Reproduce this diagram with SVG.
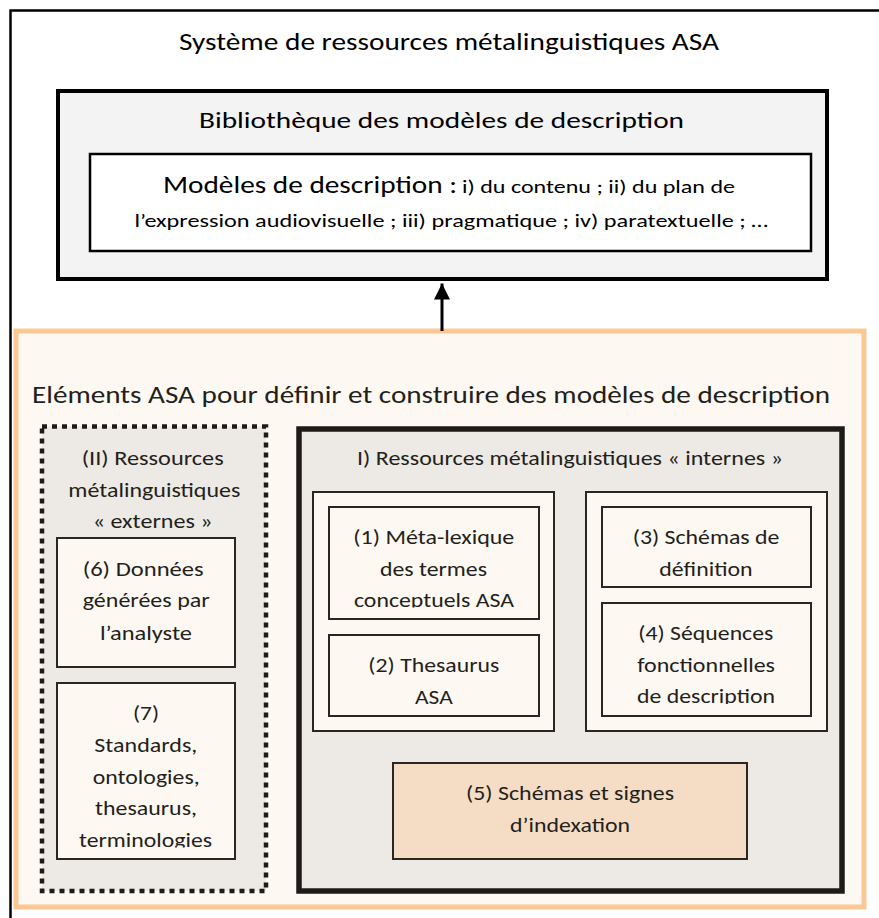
<svg xmlns="http://www.w3.org/2000/svg" width="879" height="918" viewBox="0 0 879 918">
<defs>
<style>
text{font-family:Carlito,Calibri,Lato,"Liberation Sans",sans-serif;fill:#231f1c}
.t{font-size:21px}
.thin{fill:#fdf8f2;stroke:#2b2622;stroke-width:2}
</style>
<marker id="ah" markerUnits="userSpaceOnUse" markerWidth="16" markerHeight="16" refX="16" refY="8" orient="auto">
<path d="M0,0 L16,8 L0,16 Z" fill="#000"/>
</marker>
<clipPath id="c1"><rect x="300" y="500" width="260" height="107.5"/></clipPath>
<clipPath id="c4"><rect x="600" y="600" width="220" height="104"/></clipPath>
<clipPath id="c7"><rect x="50" y="680" width="200" height="167.5"/></clipPath>
</defs>
<rect width="879" height="918" fill="#fff"/>
<g id="systeme">
<path d="M10.5,918 V10.5 H879" fill="none" stroke="#000" stroke-width="2.5"/>
<text x="179" y="50" font-size="24" textLength="540" lengthAdjust="spacingAndGlyphs" style="fill:#000">Système de ressources métalinguistiques ASA</text>
</g>
<g id="bibliotheque">
<rect x="58" y="91" width="769" height="188" fill="#f3f3f3" stroke="#000" stroke-width="4"/>
<text x="199" y="128" font-size="23" textLength="485" lengthAdjust="spacingAndGlyphs" style="fill:#000">Bibliothèque des modèles de description</text>
</g>
<g id="modeles">
<rect x="90" y="154" width="721" height="97" fill="#fff" stroke="#000" stroke-width="2.5"/>
<text x="163" y="193" font-size="24" textLength="294" lengthAdjust="spacingAndGlyphs" style="fill:#000">Modèles de description :</text>
<text x="462" y="193" font-size="19" textLength="273" lengthAdjust="spacingAndGlyphs" style="fill:#000">i) du contenu ; ii) du plan de</text>
<text x="134.5" y="227" font-size="19" textLength="633.5" lengthAdjust="spacingAndGlyphs" style="fill:#000">l’expression audiovisuelle ; iii) pragmatique ; iv) paratextuelle ; …</text>
</g>
<g id="elements">
<rect x="16" y="331" width="848" height="576" fill="#fdf8f2" stroke="#fbc794" stroke-width="5"/>
<text x="32" y="403" font-size="24" textLength="798" lengthAdjust="spacingAndGlyphs">Eléments ASA pour définir et construire des modèles de description</text>
</g>
<g id="externes">
<rect x="42" y="426.5" width="224" height="464.5" fill="#ede9e4" stroke="#1e1a17" stroke-width="4.5" stroke-dasharray="5 5"/>
<text class="t" x="81.7" y="465" textLength="142" lengthAdjust="spacingAndGlyphs">(II) Ressources</text>
<text class="t" x="68.3" y="496.5" textLength="172" lengthAdjust="spacingAndGlyphs">métalinguistiques</text>
<text class="t" x="92.7" y="528" textLength="120" lengthAdjust="spacingAndGlyphs">« externes »</text>
</g>
<g id="n6">
<rect class="thin" x="57" y="538" width="178" height="129"/>
<text class="t" x="82.7" y="576" textLength="121" lengthAdjust="spacingAndGlyphs">(6) Données</text>
<text class="t" x="82.7" y="607" textLength="127" lengthAdjust="spacingAndGlyphs">générées par</text>
<text class="t" x="100" y="640" textLength="92" lengthAdjust="spacingAndGlyphs">l’analyste</text>
</g>
<g id="n7">
<rect class="thin" x="57" y="683" width="178" height="176"/>
<text class="t" x="133" y="720" textLength="26" lengthAdjust="spacingAndGlyphs">(7)</text>
<text class="t" x="94.3" y="752" textLength="103" lengthAdjust="spacingAndGlyphs">Standards,</text>
<text class="t" x="92.7" y="783.5" textLength="107" lengthAdjust="spacingAndGlyphs">ontologies,</text>
<text class="t" x="95" y="815" textLength="102" lengthAdjust="spacingAndGlyphs">thesaurus,</text>
<text class="t" x="79" y="846.5" textLength="133" lengthAdjust="spacingAndGlyphs" clip-path="url(#c7)">terminologies</text>
</g>
<g id="internes">
<rect x="299" y="429" width="543" height="462" fill="#ede9e4" stroke="#1e1a17" stroke-width="5.5"/>
<text class="t" x="357" y="465" textLength="426" lengthAdjust="spacingAndGlyphs">I) Ressources métalinguistiques « internes »</text>
</g>
<g id="groupeA">
<rect class="thin" x="313" y="492" width="241" height="239" stroke="#3b3733"/>
</g>
<g id="n1">
<rect class="thin" x="329" y="507" width="210" height="112"/>
<text class="t" x="353.3" y="544" textLength="161" lengthAdjust="spacingAndGlyphs">(1) Méta-lexique</text>
<text class="t" x="380" y="576" textLength="107" lengthAdjust="spacingAndGlyphs">des termes</text>
<text class="t" x="354" y="607" textLength="160" lengthAdjust="spacingAndGlyphs" clip-path="url(#c1)">conceptuels ASA</text>
</g>
<g id="n2">
<rect class="thin" x="329" y="635" width="210" height="81"/>
<text class="t" x="368.3" y="672" textLength="131" lengthAdjust="spacingAndGlyphs">(2) Thesaurus</text>
<text class="t" x="415" y="704" textLength="37.7" lengthAdjust="spacingAndGlyphs">ASA</text>
</g>
<g id="groupeB">
<rect class="thin" x="586" y="492" width="241" height="239" stroke="#3b3733"/>
</g>
<g id="n3">
<rect class="thin" x="602" y="507" width="209" height="80"/>
<text class="t" x="632.7" y="544" textLength="146.7" lengthAdjust="spacingAndGlyphs">(3) Schémas de</text>
<text class="t" x="659.3" y="576" textLength="93.3" lengthAdjust="spacingAndGlyphs">définition</text>
</g>
<g id="n4">
<rect class="thin" x="602" y="603" width="209" height="113"/>
<text class="t" x="638.3" y="640" textLength="135" lengthAdjust="spacingAndGlyphs">(4) Séquences</text>
<text class="t" x="637.3" y="672" textLength="137.7" lengthAdjust="spacingAndGlyphs">fonctionnelles</text>
<text class="t" x="637" y="703" textLength="138" lengthAdjust="spacingAndGlyphs" clip-path="url(#c4)">de description</text>
</g>
<g id="n5">
<rect x="393" y="763" width="354" height="96" fill="#f5dcc4" stroke="#2b2622" stroke-width="2"/>
<text class="t" x="466" y="800" textLength="208" lengthAdjust="spacingAndGlyphs">(5) Schémas et signes</text>
<text class="t" x="510" y="832" textLength="120" lengthAdjust="spacingAndGlyphs">d’indexation</text>
</g>
<g id="connecteurs">
<line x1="442" y1="331" x2="442" y2="283.5" stroke="#000" stroke-width="3" marker-end="url(#ah)"/>
</g>
</svg>
